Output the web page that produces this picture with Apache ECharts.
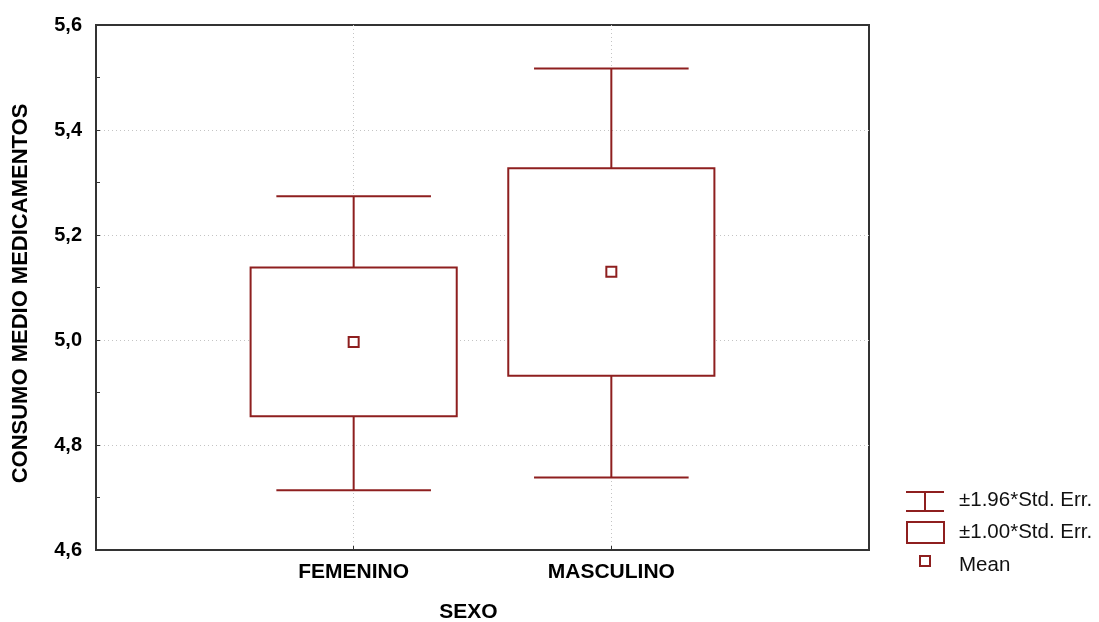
<!DOCTYPE html>
<html>
<head>
<meta charset="utf-8">
<script src="https://cdn.jsdelivr.net/npm/echarts@6/dist/echarts.min.js"></script>
<style>
    html, body { margin: 0; padding: 0; background: #fff; overflow: hidden; }
    #chart { width: 1099px; height: 622px; }
</style>
</head>
<body>
<div id="chart"></div>
<script>
// categories sit at x = 1, 2 on a 0..3 axis (Statistica style)
const categories = ['FEMENINO', 'MASCULINO']
const means = [4.996, 5.130]
const boxLow = [4.855, 4.932]
const boxHigh = [5.138, 5.327]
const whiskerLow = [4.714, 4.738]
const whiskerHigh = [5.274, 5.517]

const red = '#8e1f1f'
const fmt = v => v.toFixed(1).replace('.', ',')

const boxData = categories.map((c, i) => [i + 1, means[i], boxLow[i], boxHigh[i], whiskerLow[i], whiskerHigh[i]])

let chart = echarts.init(document.getElementById('chart'))
chart.setOption({
    animation: false,
    grid: {
        left: 96,
        right: 230,
        top: 25,
        bottom: 72,
        outerBoundsMode: 'none',
        containLabel: false,
        show: true,
        borderColor: '#333',
        borderWidth: 2,
        backgroundColor: '#fff'
    },
    xAxis: {
        type: 'value',
        min: 0,
        max: 3,
        interval: 1,
        name: 'SEXO',
        nameLocation: 'middle',
        nameGap: 52,
        nameTextStyle: {
            fontFamily: 'Arial, Liberation Sans',
            fontWeight: 'bold',
            fontSize: 21,
            color: '#000',
            padding: [0, 28, 0, 0]
        },
        axisLine: { show: false },
        axisTick: {
            inside: true,
            length: 4,
            lineStyle: { color: '#333' },
            customValues: [1, 2]
        },
        axisLabel: {
            margin: 12,
            fontFamily: 'Arial, Liberation Sans',
            fontWeight: 'bold',
            fontSize: 21,
            color: '#000',
            customValues: [1, 2],
            formatter: v => categories[v - 1] || ''
        },
        splitLine: {
            show: true,
            lineStyle: { color: '#c4c4c4', type: [1, 3], width: 1 }
        }
    },
    yAxis: {
        type: 'value',
        min: 4.6,
        max: 5.6,
        interval: 0.2,
        name: 'CONSUMO MEDIO MEDICAMENTOS',
        nameLocation: 'middle',
        nameGap: 64,
        nameTextStyle: {
            fontFamily: 'Arial, Liberation Sans',
            fontWeight: 'bold',
            fontSize: 22,
            color: '#000',
            padding: [0, 12, 0, 0]
        },
        axisLine: { show: false },
        axisTick: {
            inside: true,
            length: 4,
            lineStyle: { color: '#333' }
        },
        minorTick: {
            show: true,
            splitNumber: 2,
            length: 4,
            lineStyle: { color: '#333' }
        },
        axisLabel: {
            margin: 14,
            fontFamily: 'Arial, Liberation Sans',
            fontWeight: 'bold',
            fontSize: 20,
            color: '#000',
            formatter: v => fmt(v)
        },
        splitLine: {
            show: true,
            showMinLine: false,
            showMaxLine: false,
            lineStyle: { color: '#c4c4c4', type: [1, 3], width: 1 }
        }
    },
    series: [
        {
            type: 'custom',
            data: boxData,
            renderItem: function (params, api) {
                const x = api.value(0)
                const pMean = api.coord([x, api.value(1)])
                const pBoxL = api.coord([x - 0.4, api.value(2)])
                const pBoxH = api.coord([x + 0.4, api.value(3)])
                const pWL = api.coord([x - 0.3, api.value(4)])
                const pWH = api.coord([x + 0.3, api.value(5)])
                const cx = pMean[0]
                const style = { stroke: red, lineWidth: 2, fill: null }
                return {
                    type: 'group',
                    children: [
                        { type: 'line', shape: { x1: cx, y1: pWH[1], x2: cx, y2: pBoxH[1] }, style: style },
                        { type: 'line', shape: { x1: cx, y1: pBoxL[1], x2: cx, y2: pWL[1] }, style: style },
                        { type: 'line', shape: { x1: pWL[0], y1: pWH[1], x2: pWH[0], y2: pWH[1] }, style: style },
                        { type: 'line', shape: { x1: pWL[0], y1: pWL[1], x2: pWH[0], y2: pWL[1] }, style: style },
                        {
                            type: 'rect',
                            shape: { x: pBoxL[0], y: pBoxH[1], width: pBoxH[0] - pBoxL[0], height: pBoxL[1] - pBoxH[1] },
                            style: { stroke: red, lineWidth: 2, fill: '#fff' }
                        },
                        {
                            type: 'rect',
                            shape: { x: cx - 5, y: pMean[1] - 5, width: 10, height: 10 },
                            style: { stroke: red, lineWidth: 2, fill: '#fff' }
                        }
                    ]
                }
            }
        }
    ],
    graphic: [
        { type: 'line', shape: { x1: 906, y1: 492, x2: 944, y2: 492 }, style: { stroke: red, lineWidth: 2 } },
        { type: 'line', shape: { x1: 906, y1: 511, x2: 944, y2: 511 }, style: { stroke: red, lineWidth: 2 } },
        { type: 'line', shape: { x1: 925, y1: 492, x2: 925, y2: 511 }, style: { stroke: red, lineWidth: 2 } },
        { type: 'rect', shape: { x: 907, y: 522, width: 37, height: 21 }, style: { stroke: red, lineWidth: 2, fill: '#fff' } },
        { type: 'rect', shape: { x: 920, y: 556, width: 10, height: 10 }, style: { stroke: red, lineWidth: 2, fill: '#fff' } },
        {
            type: 'text', left: 959, top: 490,
            style: { text: '±1.96*Std. Err.', font: '20.5px Arial, Liberation Sans', fill: '#111' }
        },
        {
            type: 'text', left: 959, top: 522,
            style: { text: '±1.00*Std. Err.', font: '20.5px Arial, Liberation Sans', fill: '#111' }
        },
        {
            type: 'text', left: 959, top: 555,
            style: { text: 'Mean', font: '20.5px Arial, Liberation Sans', fill: '#111' }
        }
    ]
})
</script>
</body>
</html>
